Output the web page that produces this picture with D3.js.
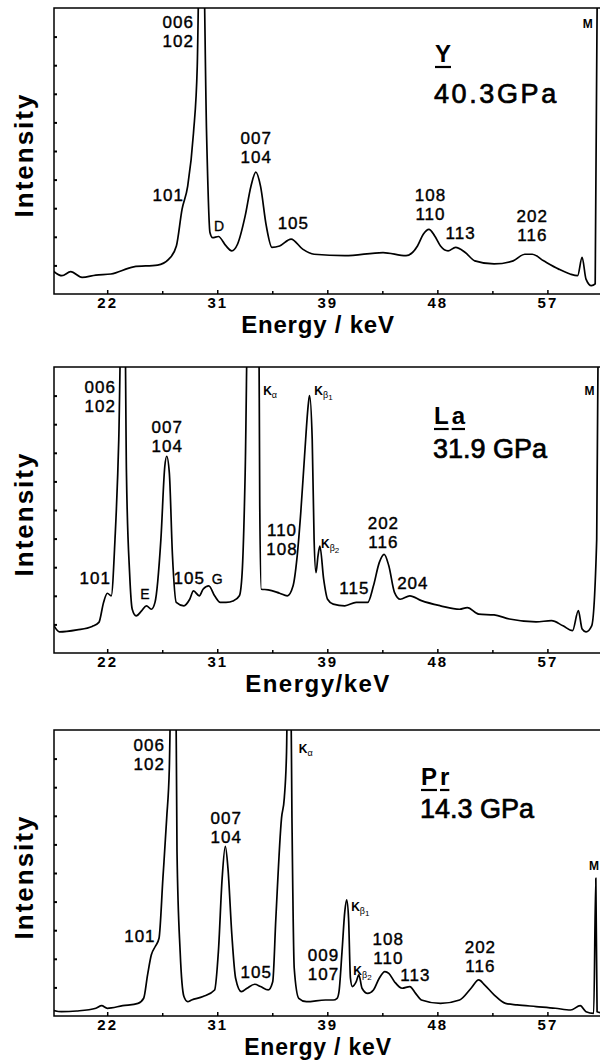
<!DOCTYPE html>
<html>
<head>
<meta charset="utf-8">
<script src="https://cdn.jsdelivr.net/npm/d3@7"></script>
<style>
  body { margin: 0; background: #fff; }
  text { font-family: "Liberation Sans", Arial, sans-serif; fill: #000; }
</style>
</head>
<body>
<div id="chart"></div>
<script>
// energy axis: labels are rounded, ticks are evenly spaced
var energyTicks = [22, 30.75, 39.5, 48.25, 57];
var energyTickLabels = ["22", "31", "39", "48", "57"];
var energyMinor = [26.375, 35.125, 43.875, 52.625];
var intensityTicks = [10, 20, 30, 40, 50, 60, 70, 80, 90];

var samples = ["Y", "La", "Pr"];
var pressures = ["40.3GPa", "31.9 GPa", "14.3 GPa"];

// [energy keV, intensity (0-100 of frame height)]
var spectrumY = [
  [17.7,8.1],[18.4,6.4],[19.1,7.8],[20.0,5.8],[21.1,6.6],[22.3,7.0],[24.1,9.5],[26.0,10.1],
  [26.9,12.2],[27.5,16.8],[27.95,29.6],[28.4,37.7],[28.86,56.3],[29.16,79.6],[29.38,130],[29.6,130],
  [29.9,56.3],[30.17,21.5],[30.38,19.7],[30.84,20.1],[31.45,16.8],[31.9,15.1],[32.36,17.4],[32.97,27.3],
  [33.43,37.7],[33.82,42.6],[34.19,37.7],[34.65,23.8],[35.1,16.3],[35.71,16.8],[36.62,19.2],[37.54,15.7],
  [38.45,13.9],[40.9,13.4],[43.93,14.5],[45.76,13.4],[46.67,16.8],[47.13,20.9],[47.58,22.6],[48.04,20.3],
  [48.5,16.8],[49.1,15.1],[49.7,16.3],[50.47,14.5],[51.23,11.6],[52.76,10.5],[54.28,11.6],[55.2,13.9],
  [55.8,13.9],[56.7,11.6],[57.9,8.7],[58.8,7.0],[59.4,6.4],[59.76,12.8],[60.07,5.2],[60.5,2.9],
  [60.8,3.5],[61.0,130]
];

var spectrumLa = [
  [17.7,10.1],[18.2,7.4],[19.6,8.1],[20.8,9.3],[21.34,10.7],[21.71,17.7],[22.01,20.9],[22.32,20.0],
  [22.62,39.8],[22.92,74.7],[23.17,130],[23.38,130],[23.53,63.0],[23.78,28.1],[23.99,15.3],[24.3,13.0],
  [24.75,14.8],[25.12,16.5],[25.51,15.3],[25.8,17.7],[26.27,39.8],[26.58,65.3],[26.73,68.8],[26.94,63.0],
  [27.19,34.0],[27.49,17.7],[28.1,16.5],[28.56,18.8],[28.86,21.7],[29.32,20.0],[29.62,22.3],[30.08,23.5],
  [30.54,20.0],[30.99,17.7],[31.45,17.7],[32.06,18.3],[32.51,20.0],[32.73,28.1],[32.97,63.0],[33.22,130],
  [34.04,130],[34.13,51.4],[34.25,22.3],[34.8,22.1],[35.71,20.9],[36.32,20.0],[36.78,23.5],[37.08,32.8],
  [37.39,49.1],[37.69,68.8],[38.0,87.4],[38.09,90.0],[38.3,74.7],[38.45,39.8],[38.6,28.1],[38.76,34.0],
  [38.91,37.4],[39.21,25.8],[39.52,18.8],[39.97,17.1],[40.89,16.5],[41.8,17.7],[42.71,17.7],[43.17,23.5],
  [43.63,31.6],[44.02,34.5],[44.39,30.5],[44.84,21.2],[45.3,18.8],[46.06,20.0],[46.98,18.3],[48.5,16.5],
  [50.02,15.3],[50.63,15.9],[51.54,13.6],[52.76,13.3],[53.98,11.9],[56.1,10.9],[57.32,11.3],[58.24,9.5],
  [59.0,7.8],[59.46,14.8],[59.76,8.4],[60.07,7.4],[60.52,9.5],[60.92,39.8],[61.07,130]
];

var spectrumPr = [
  [17.6,2.1],[18.36,1.5],[19.58,1.75],[21.1,2.7],[21.56,3.6],[22.01,2.7],[23.23,3.6],[24.45,4.4],
  [24.9,6.2],[25.21,14.4],[25.51,21.4],[25.82,24.3],[26.12,27.2],[26.43,48.2],[26.73,69.2],[26.94,86.7],
  [27.13,130],[27.43,130],[27.55,57.5],[27.8,22.5],[28.1,6.8],[28.4,5.0],[28.71,5.6],[29.62,6.8],
  [30.54,9.1],[30.84,22.5],[31.14,48.2],[31.39,59.3],[31.6,51.7],[31.91,28.4],[32.21,13.2],[32.67,8.5],
  [33.12,9.7],[33.73,11.1],[34.19,10.3],[34.8,9.1],[35.16,12.0],[35.41,34.2],[35.86,69.2],[36.08,76.2],
  [36.26,92.5],[36.38,130],[36.56,130],[36.69,69.2],[36.87,16.7],[37.23,6.2],[37.84,5.0],[39.36,5.6],
  [39.97,5.6],[40.28,6.2],[40.43,8.5],[40.67,22.5],[40.89,36.5],[41.04,40.6],[41.19,34.2],[41.34,13.2],
  [41.49,10.3],[41.8,12.0],[42.01,14.4],[42.26,9.7],[42.71,7.9],[43.17,9.1],[43.63,13.2],[44.08,15.5],
  [44.39,14.9],[44.84,12.0],[45.45,9.7],[46.06,10.3],[46.52,7.9],[46.98,5.6],[48.5,4.4],[50.02,5.6],
  [50.93,9.7],[51.54,12.6],[52.0,10.9],[52.76,7.4],[53.67,4.4],[54.59,3.9],[56.11,3.3],[57.63,2.7],
  [58.85,2.1],[59.61,3.6],[60.07,1.5],[60.68,0.9],[60.85,48.2],[60.95,1.5],[61.5,1.0]
];

// peak labels, anchored at [energy, intensity] of first line baseline
var labelsY = [
  ["006\n102",27.65,93],["101",26.85,32.4],["D",30.9,22],["007\n104",33.85,52.6],["105",36.8,22.6],
  ["108\n110",47.7,32.4],["113",50.1,19.2],["202\n116",55.8,25.1],["M",60.2,93]
];
var labelsLa = [
  ["006\n102",21.44,90.9],["101",21.05,24],["E",25.0,18.8],["007\n104",26.77,77],["105",28.52,24],
  ["G",30.75,24],["Kα",34.4,90.2],["Kβ1",38.47,90.2],["110\n108",35.9,40.8],["Kβ2",39.0,36.6],
  ["115",41.65,20.6],["202\n116",43.96,43.2],["204",46.3,22.3],["M",60.34,90.2]
];
var labelsPr = [
  ["006\n102",25.34,92.8],["101",24.6,25.9],["007\n104",31.47,67.2],["105",33.85,13.3],["Kα",37.23,92.1],
  ["009\n107",39.2,19.3],["Kβ1",41.4,36.8],["Kβ2",41.57,14.4],["108\n110",44.35,24.9],["113",46.5,12.3],
  ["202\n116",51.67,22.1],["M",60.7,51]
];

var width = 600, height = 1060;
var left = 54, right = 604, plotH = 286;

var panels = [
  {data: spectrumY, labels: labelsY, top: 8, nameX: 435, nameDy: 54, presDy: 95, presSpacing: 2.6, xTitle: "Energy / keV", titleDy: 39, titleSize: 24},
  {data: spectrumLa, labels: labelsLa, top: 367, nameX: 434, nameDy: 57, presDy: 91, presSpacing: 0, xTitle: "Energy/keV", titleDy: 39, titleSize: 24},
  {data: spectrumPr, labels: labelsPr, top: 730, nameX: 421, nameDy: 55, presDy: 88, presSpacing: 0, xTitle: "Energy / keV", titleDy: 39, titleSize: 23}
];

var svg = d3.select("#chart").append("svg")
  .attr("width", width)
  .attr("height", height);

var x = d3.scaleLinear().domain([17.77, 61.5]).range([left, right]);

panels.forEach(function (p, k) {
  var bottom = p.top + plotH;
  var y = d3.scaleLinear().domain([0, 100]).range([bottom, p.top]);
  var g = svg.append("g");

  svg.append("clipPath").attr("id", "clip" + k)
    .append("rect")
    .attr("x", left).attr("y", p.top)
    .attr("width", right - left).attr("height", plotH);

  // spectrum
  var line = d3.line()
    .x(function (d) { return x(d[0]); })
    .y(function (d) { return y(d[1]); })
    .curve(d3.curveMonotoneX);

  g.append("path")
    .datum(p.data)
    .attr("clip-path", "url(#clip" + k + ")")
    .attr("fill", "none")
    .attr("stroke", "#000")
    .attr("stroke-width", 1.7)
    .attr("stroke-linejoin", "round")
    .attr("d", line);

  // frame
  g.append("rect")
    .attr("x", left).attr("y", p.top)
    .attr("width", right - left).attr("height", plotH)
    .attr("fill", "none").attr("stroke", "#000").attr("stroke-width", 1.5);

  // x axis
  var xAxis = g.append("g")
    .attr("transform", "translate(0," + bottom + ")")
    .call(d3.axisBottom(x)
      .tickValues(energyTicks)
      .tickFormat(function (d, i) { return energyTickLabels[i]; })
      .tickSize(-4)
      .tickPadding(3));
  xAxis.select(".domain").remove();
  xAxis.selectAll("line").attr("stroke-width", 1.5);
  xAxis.selectAll("text")
    .style("font-family", '"Liberation Sans", Arial, sans-serif')
    .style("font-size", "15px")
    .style("font-weight", "bold")
    .style("letter-spacing", "2px")
    .attr("fill", "#000");

  var xMinor = g.append("g")
    .attr("transform", "translate(0," + bottom + ")")
    .call(d3.axisBottom(x).tickValues(energyMinor).tickFormat("").tickSize(-3));
  xMinor.select(".domain").remove();
  xMinor.selectAll("line").attr("stroke-width", 1.5);

  // y ticks
  var yAxis = g.append("g")
    .attr("transform", "translate(" + left + ",0)")
    .call(d3.axisLeft(y).tickValues(intensityTicks).tickFormat("").tickSizeInner(-3).tickSizeOuter(0));
  yAxis.select(".domain").remove();
  yAxis.selectAll("line").attr("stroke-width", 2);

  // axis titles
  g.append("text")
    .attr("x", 318)
    .attr("y", bottom + p.titleDy)
    .attr("text-anchor", "middle")
    .style("font-size", p.titleSize + "px")
    .style("font-weight", "bold")
    .style("letter-spacing", k === 1 ? "1.5px" : "0.8px")
    .text(p.xTitle);

  g.append("text")
    .attr("transform", "translate(33," + (p.top + plotH / 2 + 4) + ") rotate(-90)")
    .attr("text-anchor", "middle")
    .style("font-size", "26px")
    .style("font-weight", "bold")
    .style("letter-spacing", "2px")
    .text("Intensity");

  // sample and pressure
  var name = g.append("text")
    .attr("x", p.nameX)
    .attr("y", p.top + p.nameDy)
    .style("font-size", "24px")
    .style("font-weight", "bold")
    .style("letter-spacing", "3px")
    .text(samples[k]);
  var chars = samples[k].split("");
  var cx = p.nameX;
  chars.forEach(function (c, i) {
    var w = name.node().getSubStringLength(i, 1) - 3;
    g.append("line")
      .attr("x1", cx).attr("x2", cx + w)
      .attr("y1", p.top + p.nameDy + 5).attr("y2", p.top + p.nameDy + 5)
      .attr("stroke", "#000").attr("stroke-width", 2.2);
    cx += w + 3;
  });

  g.append("text")
    .attr("x", p.nameX - 1)
    .attr("y", p.top + p.presDy)
    .style("font-size", "27px")
    .style("letter-spacing", p.presSpacing + "px")
    .attr("stroke", "#000")
    .attr("stroke-width", 0.7)
    .text(pressures[k]);

  // peak labels
  p.labels.forEach(function (l) {
    var t = l[0];
    var tx = x(l[1]), ty = y(l[2]);
    var el = g.append("text").attr("x", tx).attr("y", ty);
    if (t.charAt(0) === "K") {
      el.attr("text-anchor", "start").style("font-size", "12px").style("font-weight", "bold");
      el.append("tspan").text("K");
      el.append("tspan").attr("dy", 3).style("font-size", "9px").style("font-weight", "normal").text(t.substring(1, 2));
      if (t.length > 2) {
        el.append("tspan").attr("dy", 2).style("font-size", "8px").style("font-weight", "normal").text(t.substring(2));
      }
    } else if (t === "M") {
      el.attr("text-anchor", "middle").style("font-size", "12px").style("font-weight", "bold").text(t);
    } else if (t.length === 1) {
      el.attr("text-anchor", "middle").style("font-size", "14px")
        .attr("stroke", "#000").attr("stroke-width", 0.3).text(t);
    } else {
      el.attr("text-anchor", "middle").style("font-size", "17px").style("letter-spacing", "1px")
        .attr("stroke", "#000").attr("stroke-width", 0.4);
      t.split("\n").forEach(function (s, i) {
        el.append("tspan").attr("x", tx).attr("dy", i === 0 ? 0 : 19).text(s);
      });
    }
  });
});
</script>
</body>
</html>
